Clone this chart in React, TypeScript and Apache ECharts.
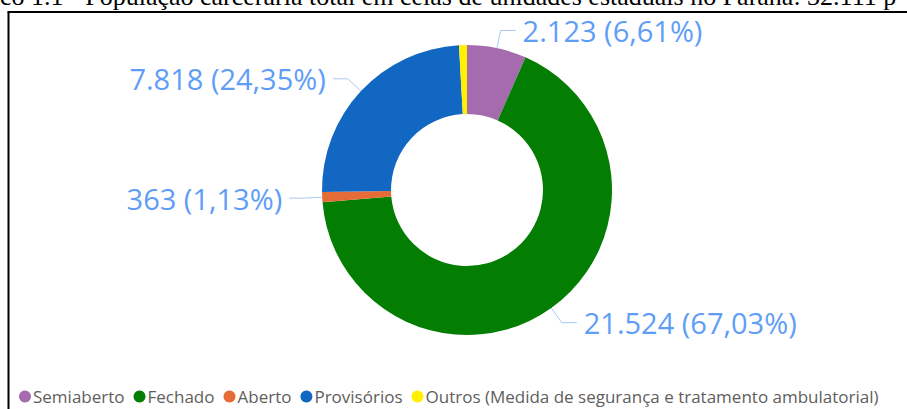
import React, { useEffect, useRef } from "react";
import * as echarts from "echarts";

const titleText =
  "co 1.1 - População carcerária total em celas de unidades estaduais no Paraná: 32.111 p";
const categories = [
  "Semiaberto",
  "Fechado",
  "Aberto",
  "Provisórios",
  "Outros (Medida de segurança e tratamento ambulatorial)",
];
const values = [2123, 21524, 363, 7818, 283];
const colors = ["#A66AAE", "#037E03", "#E66C37", "#1167C2", "#FFEF00"];
const showLabel = [true, true, true, true, false];

const fmtInt = (v: number) => String(v).replace(/\B(?=(\d{3})+(?!\d))/g, ".");

export default function App() {
  const ref = useRef<HTMLDivElement>(null);
  useEffect(() => {
    if (!ref.current) return;
    const chart = echarts.init(ref.current, undefined, { renderer: "svg" });
    const total = values.reduce((a, b) => a + b, 0);
    const labelColor = "#5F9DF7";
    chart.setOption({
      animation: false,
      backgroundColor: "#ffffff",
      graphic: [
        {
          type: "text",
          x: 0,
          y: 9,
          style: {
            text: titleText,
            font: '26px "Liberation Serif"',
            fill: "#000000",
            verticalAlign: "bottom",
            align: "left",
          },
        },
        {
          type: "line",
          shape: { x1: 8.5, y1: 12, x2: 8.5, y2: 420 },
          style: { stroke: "#000000", lineWidth: 2 },
        },
        {
          type: "line",
          shape: { x1: 7.5, y1: 12, x2: 920, y2: 12 },
          style: { stroke: "#000000", lineWidth: 2 },
        },
      ],
      legend: {
        show: true,
        orient: "horizontal",
        left: 14,
        top: 383,
        width: 1600,
        icon: "circle",
        itemWidth: 12,
        itemHeight: 12,
        itemGap: 9,
        data: categories,
        textStyle: {
          fontFamily: "Open Sans",
          fontSize: 17,
          color: "#605E5C",
          padding: [0, 0, 0, -3],
        },
      },
      series: [
        {
          type: "pie",
          center: [467, 190],
          radius: [76, 145],
          startAngle: 90,
          clockwise: true,
          avoidLabelOverlap: false,
          label: {
            show: true,
            position: "outside",
            fontFamily: "Open Sans",
            fontSize: 29,
            color: labelColor,
            distanceToLabelLine: 7,
            edgeDistance: 0,
            overflow: "none",
            formatter: (p: any) =>
              `${fmtInt(p.value)} (${((p.value / total) * 100)
                .toFixed(2)
                .replace(".", ",")}%)`,
          },
          labelLine: {
            show: true,
            length: 18,
            length2: 15,
            lineStyle: { color: "#A9C8F2", width: 1 },
          },
          emphasis: { disabled: true },
          data: categories.map((name, i) => ({
            name,
            value: values[i],
            itemStyle: { color: colors[i] },
            label: { show: showLabel[i] },
            labelLine: { show: showLabel[i] },
          })),
        },
      ],
    });
    return () => chart.dispose();
  }, []);
  return (
    <div
      ref={ref}
      style={{ position: "fixed", left: 0, top: 0, width: 907, height: 409 }}
    />
  );
}
